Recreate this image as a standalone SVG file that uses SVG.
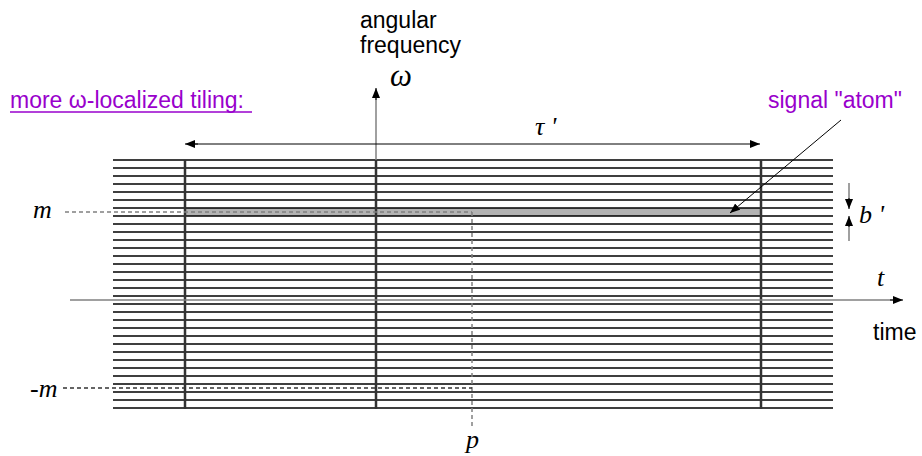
<svg xmlns="http://www.w3.org/2000/svg" width="922" height="456" viewBox="0 0 922 456">
<defs>
<marker id="ah" viewBox="0 0 10 8" refX="10" refY="4" markerWidth="10" markerHeight="8" markerUnits="userSpaceOnUse" orient="auto">
<path d="M0,0 L10,4 L0,8 Z" fill="#000"/>
</marker>
<style>
.sans{font-family:"Liberation Sans",Arial,sans-serif;font-size:23px;fill:#000}
.purple{fill:#9900CC}
.math{font-family:"Liberation Serif","Times New Roman",serif;font-style:italic;font-size:26px;fill:#000}
.hl{stroke:#000;stroke-width:1.5}
.vl{stroke:#333;stroke-width:2.5}
.dash{stroke:#808080;stroke-width:1.5;stroke-dasharray:4,3;fill:none}
.dashk{stroke:#333;stroke-width:1.5;stroke-dasharray:4,3;fill:none}
.axis{stroke:#808080;stroke-width:1.5;fill:none}
.thin{stroke:#000;stroke-width:1;fill:none}
</style>
</defs>
<rect width="922" height="456" fill="#fff"/>

<g id="atom-band">
<rect x="185" y="208" width="576" height="8" fill="#b3b3b3"/>
</g>

<g id="grid">
<path class="hl" d="M113,160H833M113,168H833M113,176H833M113,184H833M113,192H833M113,200H833M113,208H833M113,216H833M113,224H833M113,232H833M113,240H833M113,248H833M113,256H833M113,264H833M113,272H833M113,280H833M113,288H833M113,296H833M113,304H833M113,312H833M113,320H833M113,328H833M113,336H833M113,344H833M113,352H833M113,360H833M113,368H833M113,376H833M113,384H833M113,392H833M113,400H833M113,408H833"/>
<path class="vl" d="M185,160V409M761,160V409M376,160V409"/>
</g>

<g id="connectors">
<line class="axis" x1="376" y1="96" x2="376" y2="160"/>
<line class="thin" x1="376" y1="100" x2="376" y2="88" marker-end="url(#ah)"/>
<line class="axis" x1="70" y1="300" x2="896" y2="300"/>
<line class="thin" x1="890" y1="300" x2="903" y2="300" marker-end="url(#ah)"/>
<line class="thin" x1="198" y1="144" x2="185" y2="144" marker-end="url(#ah)"/>
<line class="thin" x1="190" y1="144" x2="760" y2="144" marker-end="url(#ah)"/>
<line class="dash" x1="65" y1="212" x2="472" y2="212"/>
<line class="dash" x1="472" y1="212" x2="472" y2="426"/>
<line class="dashk" x1="63" y1="388" x2="472" y2="388"/>
<line class="thin" x1="841" y1="120" x2="730" y2="213" marker-end="url(#ah)"/>
<line class="axis" x1="849" y1="183" x2="849" y2="200"/>
<line class="thin" x1="849" y1="198" x2="849" y2="209" marker-end="url(#ah)"/>
<line class="axis" x1="849" y1="225" x2="849" y2="241"/>
<line class="thin" x1="849" y1="227" x2="849" y2="216" marker-end="url(#ah)"/>
</g>

<g id="labels">
<text class="sans" x="360" y="28">angular</text>
<text class="sans" x="360" y="53">frequency</text>
<text class="math" x="390" y="86" style="font-size:31px">ω</text>
<text class="sans purple" x="10" y="108">more ω-localized tiling:</text>
<line x1="10" y1="112" x2="252" y2="112" stroke="#9900CC" stroke-width="1.5"/>
<text class="sans purple" x="768" y="108">signal "atom"</text>
<text class="math" x="535" y="135">τ '</text>
<text class="math" x="33" y="218">m</text>
<text class="math" x="30" y="397">-m</text>
<text class="math" x="466" y="448">p</text>
<text class="math" x="859" y="223">b '</text>
<text class="math" x="877" y="286">t</text>
<text class="sans" x="873" y="340">time</text>
</g>
</svg>
